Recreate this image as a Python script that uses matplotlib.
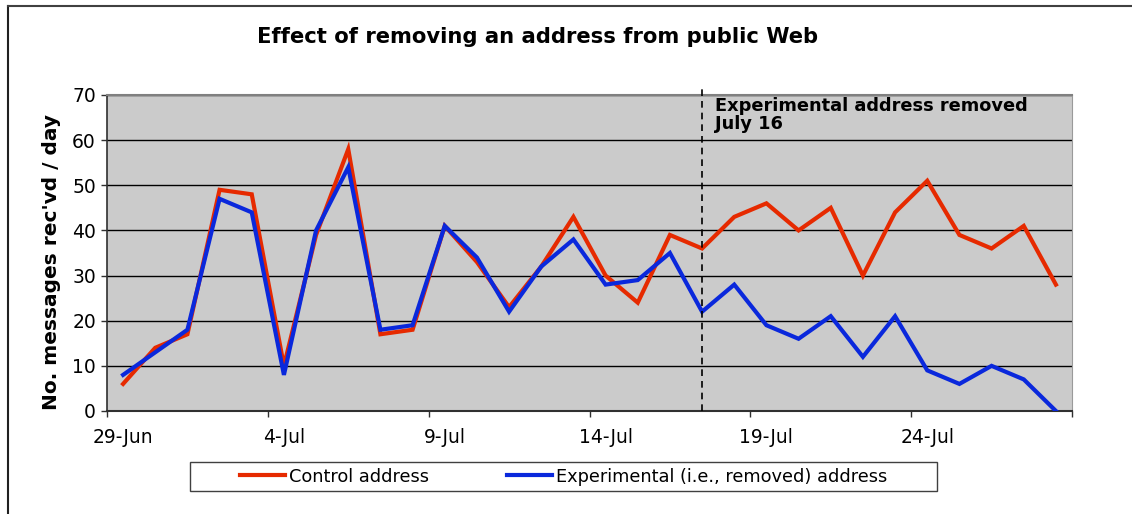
import matplotlib
matplotlib.use("Agg")
import matplotlib.pyplot as plt
import numpy as np
from matplotlib.lines import Line2D
from matplotlib.patches import Rectangle

# Daily counts, 29-Jun .. 28-Jul
control = [6, 14, 17, 49, 48, 10, 39, 58, 17, 18, 41, 33, 23, 32, 43,
           30, 24, 39, 36, 43, 46, 40, 45, 30, 44, 51, 39, 36, 41, 28]
experimental = [8, 13, 18, 47, 44, 8, 40, 54, 18, 19, 41, 34, 22, 32, 38,
                28, 29, 35, 22, 28, 19, 16, 21, 12, 21, 9, 6, 10, 7, 0]
tick_labels = ["29-Jun", "4-Jul", "9-Jul", "14-Jul", "19-Jul", "24-Jul"]
removal_day = 18  # category index where the dashed marker sits

W, H = 1132, 514
fig = plt.figure(figsize=(W / 100, H / 100), dpi=100)
ax = fig.add_axes([107 / W, 1 - 411 / H, (1072 - 107) / W, (411 - 95) / H])
ax.set_facecolor("#CBCBCB")

x = np.arange(len(control))
ax.plot(x, control, color="#E62A00", lw=3.0, label="Control address",
        solid_joinstyle="miter", zorder=3)
ax.plot(x, experimental, color="#0A28DC", lw=3.0,
        label="Experimental (i.e., removed) address",
        solid_joinstyle="miter", zorder=4)

ax.axvline(removal_day, ymin=0, ymax=1.022, color="black", lw=1.2,
           ls=(0, (4, 3)), clip_on=False, zorder=5)
ax.text(removal_day + 0.4, 69.5, "Experimental address removed\nJuly 16",
        ha="left", va="top", fontsize=12.8, fontweight="bold",
        linespacing=1.0, zorder=6)

ax.set_xlim(-0.5, len(control) - 0.5)
ax.set_ylim(0, 70)
ax.set_yticks(np.arange(0, 71, 10))
ax.yaxis.grid(True, color="black", lw=1.0)
ax.set_axisbelow(True)

ax.set_xticks(np.arange(-0.5, len(control), 5))
ax.set_xticklabels([])
ax.set_xticks(np.arange(0, len(control), 5)[:len(tick_labels)], minor=True)
ax.set_xticklabels(tick_labels, minor=True, fontsize=13.5)
ax.tick_params(axis="x", which="major", direction="out", length=4,
               color="#303030", width=1.0)
ax.tick_params(axis="x", which="minor", length=0, pad=12)
ax.tick_params(axis="y", direction="out", length=4, color="#303030",
               width=1.0, labelsize=13.5, pad=4)

ax.spines["left"].set_color("#303030")
ax.spines["bottom"].set_color("#303030")
ax.spines["left"].set_linewidth(1.2)
ax.spines["bottom"].set_linewidth(1.5)
ax.spines["top"].set_color("#808080")
ax.spines["right"].set_color("#9A9A9A")
ax.spines["top"].set_linewidth(1.5)

ax.set_ylabel("No. messages rec'vd / day", fontsize=14.5, fontweight="bold")
ax.yaxis.set_label_coords(-0.048, 0.47)

fig.text(538 / W, 1 - 37 / H, "Effect of removing an address from public Web",
         ha="center", va="center", fontsize=15.2, fontweight="bold")

# legend with a separate rectangular frame
fig.add_artist(Rectangle((190 / W, 1 - 491 / H), (937 - 190) / W, 29 / H,
                         transform=fig.transFigure, facecolor="white",
                         edgecolor="#404040", lw=1.0, zorder=0.5))
handles, labels = ax.get_legend_handles_labels()
leg = fig.legend(handles, labels, loc="center",
                 bbox_to_anchor=(563.5 / W, 1 - 476.5 / H), ncol=2,
                 frameon=False, fontsize=12.8, handlelength=2.55,
                 handletextpad=0.2, columnspacing=4.4, borderpad=0.1)
leg.set_zorder(5)

# outer chart-area border (left and top edges visible)
fig.add_artist(Line2D([8 / W, 8 / W], [0, 1 - 6 / H], color="#202020", lw=1.5,
                      transform=fig.transFigure))
fig.add_artist(Line2D([8 / W, 1], [1 - 6 / H, 1 - 6 / H], color="#404040",
                      lw=1.5, transform=fig.transFigure))

fig.savefig("out.png", dpi=100)
